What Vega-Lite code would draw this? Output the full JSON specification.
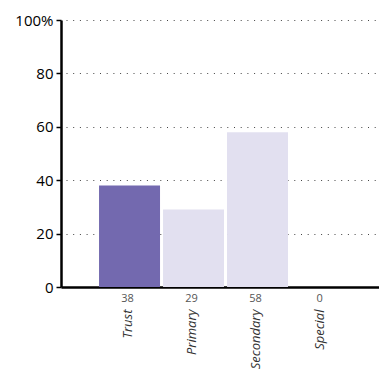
{
  "$schema": "https://vega.github.io/schema/vega-lite/v6.json",
  "autosize": {"type": "none"},
  "padding": {"left": 61, "top": 20, "right": 0, "bottom": 91},
  "width": 318,
  "height": 267,
  "background": "white",
  "config": {"view": {"stroke": null}, "font": "Open Sans"},
  "data": {"values": [
    {"category": "Trust", "value": 38, "group": "trust"},
    {"category": "Primary", "value": 29, "group": "other"},
    {"category": "Secondary", "value": 58, "group": "other"},
    {"category": "Special", "value": 0, "group": "other"}
  ]},
  "encoding": {
    "x": {
      "field": "category", "type": "nominal", "sort": null,
      "scale": {"paddingInner": 0.047, "paddingOuter": 0.508, "align": 0.585},
      "axis": {
        "title": null, "ticks": false, "labelAngle": 270, "labelPadding": 22,
        "labelFontSize": 13, "labelFontStyle": "italic", "labelFontWeight": "normal", "labelColor": "#333333",
        "labelAlign": "right", "labelBaseline": "middle", "labelOffset": -2,
        "domainColor": "black", "domainWidth": 2.5
      }
    }
  },
  "layer": [
    {
      "mark": {"type": "bar"},
      "encoding": {
        "y": {
          "field": "value", "type": "quantitative",
          "scale": {"domain": [0, 100], "nice": false},
          "axis": {
            "title": null,
            "values": [0, 10, 20, 30, 40, 50, 60, 70, 80, 90, 100],
            "labelExpr": "datum.value % 20 == 0 ? (datum.value == 100 ? '100%' : datum.label) : ''",
            "labelFontSize": 15, "labelFontWeight": "normal", "labelColor": "black", "labelPadding": 3,
            "tickSize": 5, "tickColor": "black", "tickWidth": 1.5,
            "domainColor": "black", "domainWidth": 2.5,
            "grid": true, "gridColor": "#444444", "gridDash": [1, 5.7], "gridDashOffset": -5, "gridWidth": 1,
            "gridOpacity": {"condition": {"test": "datum.value % 20 == 0 && datum.value > 0", "value": 1}, "value": 0}
          }
        },
        "color": {
          "field": "group", "type": "nominal", "legend": null,
          "scale": {"domain": ["trust", "other"], "range": ["#7369AF", "#E2E0F0"]}
        }
      }
    },
    {
      "mark": {"type": "text", "fontSize": 11, "fontWeight": "normal", "color": "#555555", "baseline": "middle", "dy": 12, "dx": -2},
      "encoding": {
        "y": {"datum": 0, "type": "quantitative"},
        "text": {"field": "value", "type": "quantitative"}
      }
    }
  ]
}
